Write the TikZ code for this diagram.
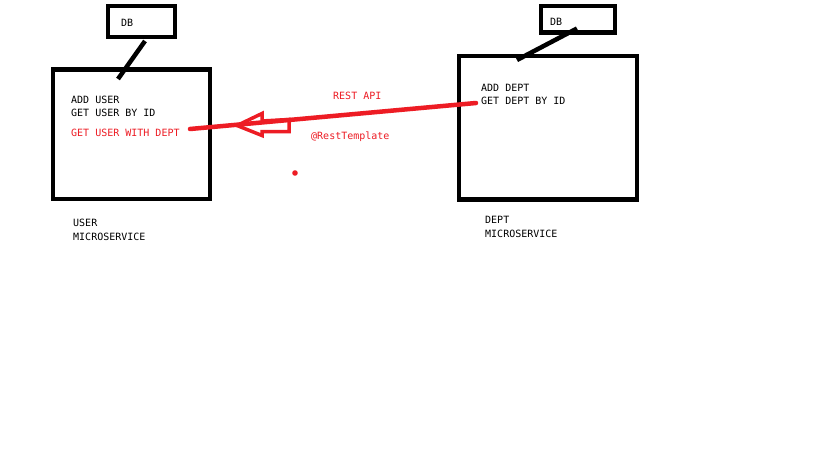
\documentclass[tikz,border=0pt]{standalone}
\usepackage{fontspec}
\setmonofont{DejaVu Sans Mono}
\begin{document}
\begin{tikzpicture}[x=1pt,y=-1pt,
  box/.style={draw=black,line width=4.5pt},
  conn/.style={draw=black,line width=4.5pt},
  lbl/.style={font=\ttfamily\fontsize{10}{12}\selectfont,text=black,inner sep=0pt,anchor=west},
  rlbl/.style={lbl,text=pred},
  redline/.style={draw=pred,line width=4.5pt,line cap=round}]
\definecolor{pred}{RGB}{237,28,36}
\useasboundingbox[fill=white] (0,0) rectangle (819,460);
% user side
\draw[box] (53,69.5) rectangle (210,199);
\draw[box] (108,6) rectangle (175,37);
\node[lbl] (udb) at (121,23) {DB};
\coordinate (uc1) at (145,41);
\coordinate (uc2) at (118,79);
\draw[conn] (uc1) -- (uc2);
\node[lbl] (u1) at (71,99.5) {ADD USER};
\node[lbl] (u2) at (71,112.5) {GET USER BY ID};
\node[rlbl] (u3) at (71,132.5) {GET USER WITH DEPT};
\node[lbl] (u4) at (73,223) {USER};
\node[lbl] (u5) at (73,237) {MICROSERVICE};
% dept side
\draw[box] (459,56) rectangle (637,199.5);
\draw[box] (541,6) rectangle (615,32.5);
\node[lbl] (ddb) at (550,22) {DB};
\coordinate (dc1) at (577,28.5);
\coordinate (dc2) at (517,60);
\draw[conn] (dc1) -- (dc2);
\node[lbl] (d1) at (481,87.5) {ADD DEPT};
\node[lbl] (d2) at (481,100.5) {GET DEPT BY ID};
\node[lbl] (d3) at (485,220) {DEPT};
\node[lbl] (d4) at (485,234) {MICROSERVICE};
% REST call
\coordinate (rs) at (476,103);
\coordinate (re) at (190,129);
\draw[redline] (rs) -- (re);
\draw[draw=pred,line width=3.5pt,line join=miter]
  (289,119.5) -- (262,121) -- (262,113.5) -- (237,125.5) -- (262,135.5) -- (262,131.5) -- (289,131.5) -- cycle;
\node[rlbl] (api) at (333,96) {REST API};
\node[rlbl] (rt) at (311,137) {@RestTemplate};
\fill[pred] (295,173) circle (2.8);
\end{tikzpicture}
\end{document}
